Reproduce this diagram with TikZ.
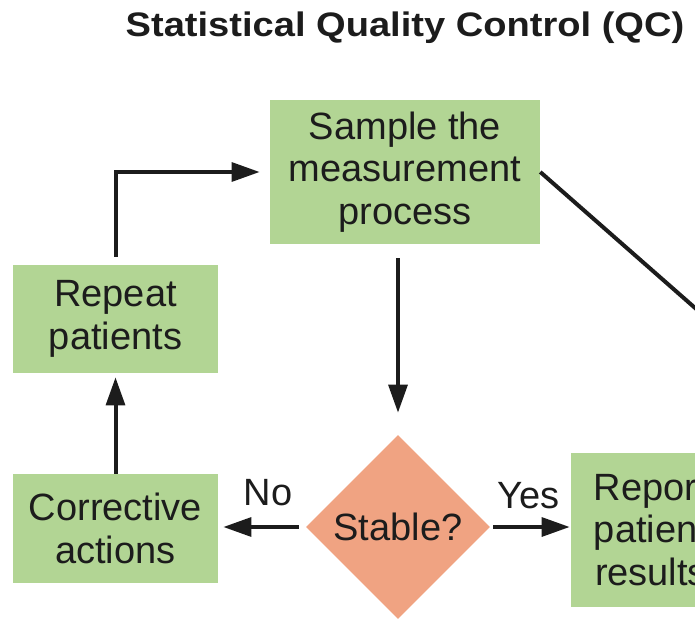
\documentclass[tikz,border=0pt]{standalone}
\usepackage{fontspec}
\setmainfont{Liberation Sans}
\newfontfamily\headfont{Liberation Sans}[FakeStretch=1.12]
\usetikzlibrary{shapes.geometric,arrows.meta}

\definecolor{boxgreen}{RGB}{178,213,148}
\definecolor{diasalmon}{RGB}{240,163,130}
\definecolor{inkdark}{RGB}{28,28,28}

\tikzset{
  stepbox/.style={fill=boxgreen, text=inkdark, align=center, inner sep=0pt,
    font=\fontsize{28.5}{32}\selectfont},
  choice/.style={diamond, fill=diasalmon, text=inkdark, inner sep=0pt,
    minimum width=138pt, minimum height=138pt, font=\fontsize{28.5}{32}\selectfont},
  flow/.style={line width=3pt, draw=inkdark, -{Triangle[length=21pt,width=14pt]}},
  lbl/.style={text=inkdark, inner sep=0pt, font=\fontsize{28.5}{32}\selectfont},
  headline/.style={text=inkdark, inner sep=0pt, font=\headfont\bfseries\fontsize{25.5}{30}\selectfont}
}

\begin{document}
\begin{tikzpicture}[x=0.75pt,y=0.75pt,yscale=-1,xscale=1]
\useasboundingbox (0,0) rectangle (695,620);
\clip (0,0) rectangle (695,620);

% Text Node
\node[headline, anchor=base] (title) at (405,37) {Statistical Quality Control (QC)};

%Shape: Rectangle
\node[stepbox, minimum width=202.5pt, minimum height=108pt] (sample) at (405,172) {Sample the\\measurement\\process};
%Shape: Rectangle
\node[stepbox, minimum width=153.75pt, minimum height=81pt] (repeat) at (115.5,319) {Repeat\\patients};
%Shape: Rectangle
\node[stepbox, minimum width=153.75pt, minimum height=81.75pt] (corrective) at (115.5,528.5) {Corrective\\actions};
%Shape: Diamond
\node[choice] (stable) at (398,527) {Stable?};
%Shape: Rectangle
\node[stepbox, minimum width=120pt, minimum height=115.5pt] (report) at (651,530) {Report\\patient\\results};

% Text Node
\node[lbl, anchor=base] (no) at (268,505) {No};
% Text Node
\node[lbl, anchor=base] (yes) at (528.5,508) {Yes};

\coordinate (offright) at (760,365);

%Straight Lines
\draw[flow, shorten <=10.5pt, shorten >=16.5pt] (stable.north |- sample.south) -- (stable.north);
\draw[flow, shorten <=5.25pt, shorten >=3.75pt] (stable.west) -- (stable.west -| corrective.east);
\draw[flow, shorten <=2.25pt, shorten >=0.75pt] (stable.east) -- (stable.east -| report.west);
\draw[flow, shorten >=3pt] (corrective.north) -- (repeat.south);
\draw[flow, shorten <=6pt, shorten >=7.5pt] (repeat.north) |- (sample.west);
\draw[line width=3pt, inkdark] (sample.east) -- (offright);

\end{tikzpicture}
\end{document}
